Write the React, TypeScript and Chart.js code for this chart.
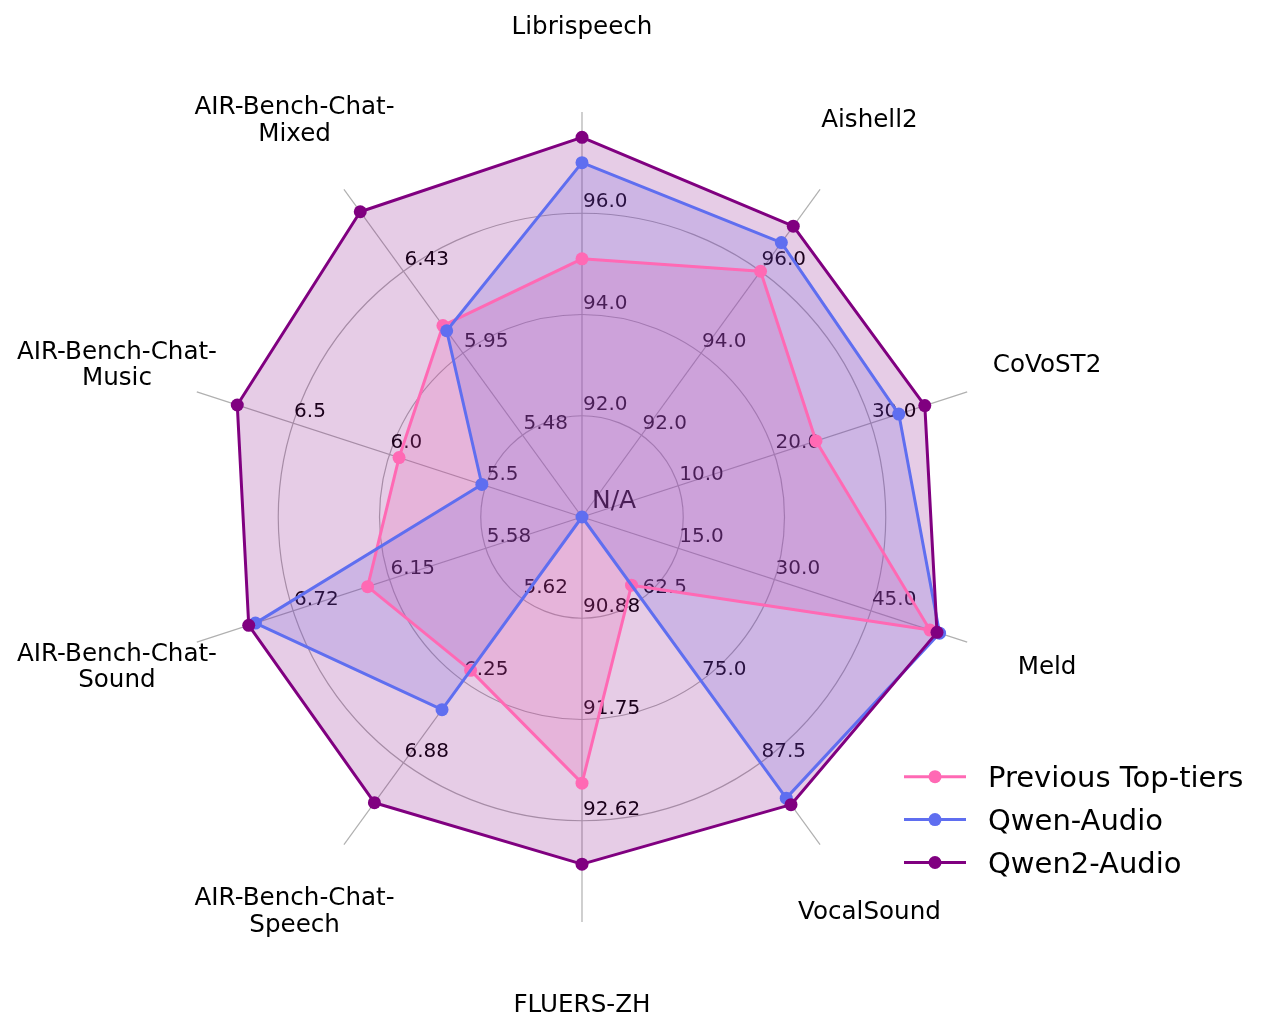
import React, { useEffect, useRef } from "react";
import { Chart, registerables } from "chart.js";

// ---------- data ----------
const categories: (string | string[])[] = [
  "Librispeech",
  "Aishell2",
  "CoVoST2",
  "Meld",
  "VocalSound",
  "FLUERS-ZH",
  ["AIR-Bench-Chat-", "Speech"],
  ["AIR-Bench-Chat-", "Sound"],
  ["AIR-Bench-Chat-", "Music"],
  ["AIR-Bench-Chat-", "Mixed"],
];

// value at the centre and at the outer end of every spoke
const axisMin = [90, 90, 0, 0, 50, 90, 5, 5, 5, 5];
const axisMax = [98, 98, 40, 60, 100, 93.5, 7.5, 7.3, 7.0, 6.9];

const tickLabels: string[][] = [
  ["92.0", "94.0", "96.0"],
  ["92.0", "94.0", "96.0"],
  ["10.0", "20.0", "30.0"],
  ["15.0", "30.0", "45.0"],
  ["62.5", "75.0", "87.5"],
  ["90.88", "91.75", "92.62"],
  ["5.62", "6.25", "6.88"],
  ["5.58", "6.15", "6.72"],
  ["5.5", "6.0", "6.5"],
  ["5.48", "5.95", "6.43"],
];
const centerLabel = "N/A";

const previousTopTiers: (number | null)[] = [95.1, 96.0, 24.3, 54.2, 60.4, 92.3, 6.17, 6.28, 5.95, 6.11];
const qwenAudio: (number | null)[] = [97.0, 96.7, 32.9, 55.7, 92.9, null, 6.47, 6.95, 5.52, 6.08];
const qwen2Audio: (number | null)[] = [97.5, 97.1, 35.6, 55.3, 93.9, 93.0, 7.18, 6.99, 6.79, 6.77];

const seriesNames = ["Previous Top-tiers", "Qwen-Audio", "Qwen2-Audio"];
const seriesColors = ["#FF69B4", "#5F6EF0", "#800080"];
const seriesFills = ["rgba(255,105,180,0.2)", "rgba(95,110,240,0.2)", "rgba(128,0,128,0.2)"];

// ---------- helpers ----------
const RING_MAX = 4;
const FONT = "'DejaVu Sans', sans-serif";

const normalize = (vals: (number | null)[]) =>
  vals.map((v, i) => (v == null ? 0 : (RING_MAX * (v - axisMin[i])) / (axisMax[i] - axisMin[i])));

const tickTextPlugin = {
  id: "axisTickText",
  beforeDatasetsDraw(chart: any) {
    const scale = chart.scales.r;
    if (!scale) return;
    const ctx = chart.ctx;
    ctx.save();
    ctx.fillStyle = "#000";
    ctx.textAlign = "left";
    ctx.textBaseline = "alphabetic";
    ctx.font = `20px ${FONT}`;
    tickLabels.forEach((labels, i) => {
      labels.forEach((t, k) => {
        const p = scale.getPointPosition(i, scale.getDistanceFromCenterForValue(k + 1));
        ctx.fillText(t, p.x + 1, p.y - 6);
      });
    });
    ctx.font = `25px ${FONT}`;
    ctx.fillText(centerLabel, scale.xCenter + 10, scale.yCenter - 9);
    ctx.restore();
  },
};

Chart.register(tickTextPlugin, ...registerables);

const overlayPlugin = {
  id: "overlayText",
  afterDraw(chart: any) {
    const scale = chart.scales.r;
    const ctx = chart.ctx;
    ctx.save();
    // axis names
    const fs = 24.6;
    const capH = fs * 0.729;
    const lineGap = 26.7;
    ctx.font = `${fs}px ${FONT}`;
    ctx.fillStyle = "#000";
    ctx.textAlign = "center";
    ctx.textBaseline = "alphabetic";
    const dist = scale.drawingArea * 1.2074;
    categories.forEach((c, i) => {
      const lines = Array.isArray(c) ? c : [c];
      const p = scale.getPointPosition(i, dist);
      lines.forEach((ln, j) => {
        const y = p.y - 3 + (j - (lines.length - 1) / 2) * lineGap + capH / 2;
        ctx.fillText(ln, p.x, y);
      });
    });
    // legend
    const lx0 = 904, lx1 = 966, mx = 935, tx = 988, ly0 = 776.7, rowGap = 42.9;
    const lfs = 29;
    ctx.font = `${lfs}px ${FONT}`;
    ctx.textAlign = "left";
    seriesNames.forEach((name, s) => {
      const y = ly0 + s * rowGap;
      ctx.strokeStyle = seriesColors[s];
      ctx.lineWidth = 3;
      ctx.beginPath();
      ctx.moveTo(lx0, y);
      ctx.lineTo(lx1, y);
      ctx.stroke();
      ctx.fillStyle = seriesColors[s];
      ctx.beginPath();
      ctx.arc(mx, y, 6.5, 0, Math.PI * 2);
      ctx.fill();
      ctx.fillStyle = "#000";
      ctx.fillText(name, tx, y + (lfs * 0.729) / 2);
    });
    ctx.restore();
  },
};

export default function App() {
  const ref = useRef<HTMLCanvasElement | null>(null);
  useEffect(() => {
    if (!ref.current) return;
    const all = [previousTopTiers, qwenAudio, qwen2Audio];
    const chart = new Chart(ref.current, {
      type: "radar",
      data: {
        labels: categories.map((c) => (Array.isArray(c) ? c.join("") : c)),
        datasets: all.map((vals, s) => ({
          label: seriesNames[s],
          data: normalize(vals),
          borderColor: seriesColors[s],
          backgroundColor: seriesFills[s],
          pointBackgroundColor: seriesColors[s],
          pointBorderWidth: 0,
          pointRadius: 6.5,
          pointHoverRadius: 6.5,
          borderWidth: 3,
          borderJoinStyle: "round",
          fill: true,
          order: 3 - s,
        })),
      },
      options: {
        responsive: false,
        animation: false,
        layout: { padding: { left: 177, top: 112, right: 285, bottom: 111 } },
        plugins: {
          legend: { display: false },
          tooltip: { enabled: false },
          filler: { drawTime: "beforeDatasetsDraw" },
        },
        elements: { line: { tension: 0 } },
        scales: {
          r: {
            min: 0,
            max: RING_MAX,
            ticks: { display: false, stepSize: 1 },
            pointLabels: { display: false },
            grid: {
              circular: true,
              lineWidth: 1.2,
              color: (ctx: any) =>
                ctx.tick && ctx.tick.value > 0 && ctx.tick.value < RING_MAX ? "#b0b0b0" : "rgba(0,0,0,0)",
            },
            angleLines: { display: true, color: "#b0b0b0", lineWidth: 1.2 },
          },
        },
      } as any,
      plugins: [overlayPlugin],
    });
    return () => chart.destroy();
  }, []);
  return (
    <div style={{ position: "absolute", left: 0, top: 0, width: 1272, height: 1033, background: "#fff" }}>
      <canvas ref={ref} width={1272} height={1033} style={{ display: "block" }} />
    </div>
  );
}
